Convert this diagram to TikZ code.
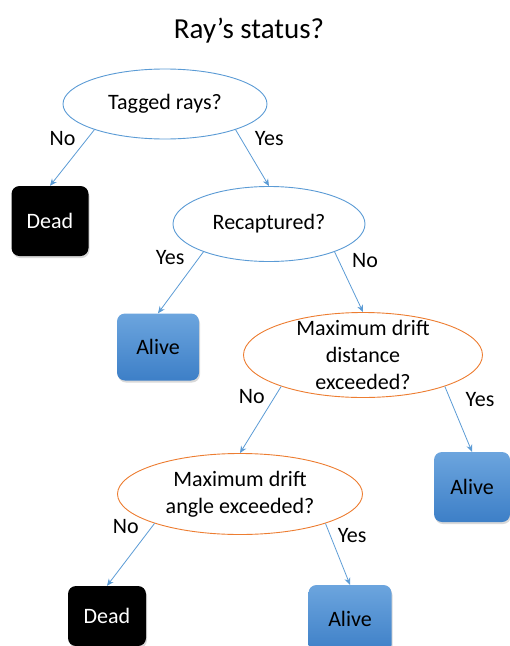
\documentclass[tikz,border=0pt]{standalone}
\usepackage{fontspec}
\setmainfont{Carlito}
\usetikzlibrary{shapes.geometric,arrows.meta,shadows}
\definecolor{qblue}{HTML}{5B9BD5}
\definecolor{qorange}{HTML}{ED7D31}
\definecolor{alivetop}{HTML}{6CA5DE}
\definecolor{alivebot}{HTML}{3D7FC7}

\begin{document}
\begin{tikzpicture}[x=1pt,y=-1pt,font=\fontsize{22}{27}\selectfont,
  question/.style={ellipse,draw,line width=0.9pt,inner sep=-20pt,align=center,fill=white},
  blueq/.style={question,draw=qblue},
  orangeq/.style={question,draw=qorange},
  leaf/.style={rounded corners=8pt,inner sep=0pt,
    drop shadow={shadow xshift=1pt,shadow yshift=-2pt,opacity=0.3}},
  deadbox/.style={leaf,fill=black,text=white},
  alivebox/.style={leaf,top color=alivetop,bottom color=alivebot,text=black},
  link/.style={draw=qblue,line width=0.8pt,-{Stealth[length=7pt,width=6pt]}},
  lab/.style={inner sep=2pt}]
\useasboundingbox (0,0) rectangle (510,646);
\clip (0,0) rectangle (510,646);

% title
\node[font=\fontsize{29}{34}\selectfont] (title) at (249,31) {Ray’s status?};

% questions
\node[blueq,minimum width=204pt,minimum height=70pt] (tagged) at (165,104) {Tagged rays?};
\node[blueq,minimum width=192pt,minimum height=75pt] (recap) at (269,224) {Recaptured?};
\node[orangeq,minimum width=239pt,minimum height=85pt] (dist) at (363,355)
  {Maximum drift\\distance\\exceeded?};
\node[orangeq,minimum width=245pt,minimum height=81pt] (angle) at (240,494)
  {Maximum drift\\angle exceeded?};

% outcomes
\node[deadbox,minimum width=77pt,minimum height=70pt] (dead1) at (50,221) {Dead};
\node[alivebox,minimum width=82pt,minimum height=67pt] (alive1) at (158,347) {Alive};
\node[alivebox,minimum width=76pt,minimum height=70pt] (alive2) at (472,487) {Alive};
\node[deadbox,minimum width=78pt,minimum height=60pt] (dead2) at (107,616) {Dead};
\node[alivebox,minimum width=83pt,minimum height=68pt] (alive3) at (350,619) {Alive};

% branches
\draw[link] (tagged.200) -- (dead1.north) node[lab,pos=0.15,left=10pt] {No};
\draw[link] (tagged.340) -- (recap.north) node[lab,pos=0.15,right=12pt] {Yes};
\draw[link] (recap.203) -- (alive1.north) node[lab,pos=0.1,left=12pt] {Yes};
\draw[link] (recap.337) -- (dist.north) node[lab,pos=0.15,right=11pt] {No};
\draw[link] (dist.201) -- (angle.north) node[lab,pos=0.15,left=8pt] {No};
\draw[link] (dist.339) -- (alive2.north) node[lab,pos=0.2,right=13pt] {Yes};
\draw[link] (angle.199) -- (dead2.north) node[lab,pos=0.05,left=11pt] {No};
\draw[link] (angle.341) -- (alive3.north) node[lab,pos=0.2,right=5pt] {Yes};
\end{tikzpicture}
\end{document}
